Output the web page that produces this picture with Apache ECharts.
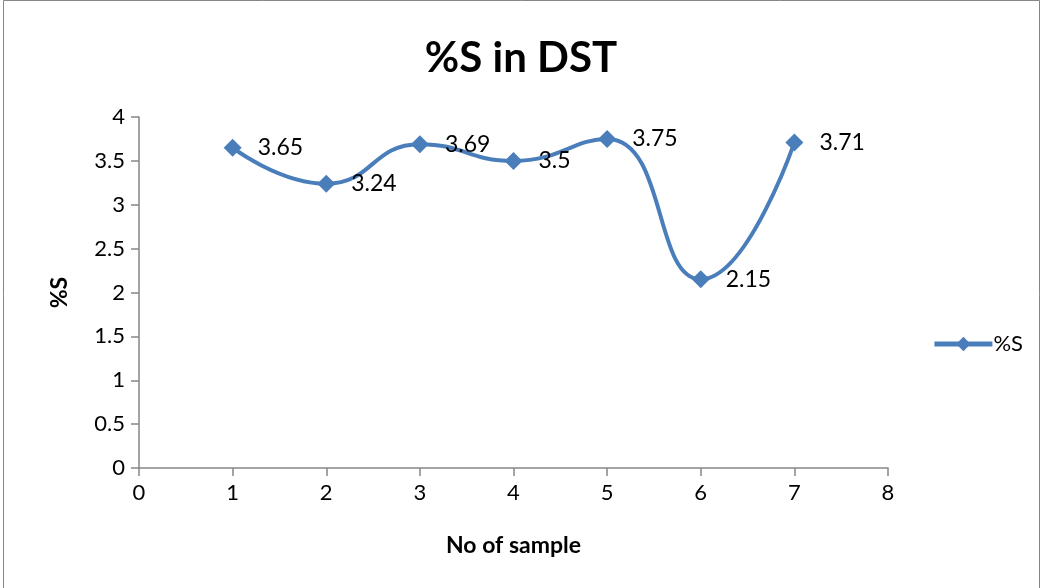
<!DOCTYPE html>
<html>
<head>
<meta charset="utf-8">
<script src="https://cdn.jsdelivr.net/npm/echarts@6/dist/echarts.min.js"></script>
<style>html,body{margin:0;padding:0;background:#fff}#c{width:1042px;height:588px}</style>
</head>
<body>
<div id="c"></div>
<script>
var samples = [1, 2, 3, 4, 5, 6, 7];
var sValues = [3.65, 3.24, 3.69, 3.5, 3.75, 2.15, 3.71];
var seriesName = '%S';
var titleText = '%S in DST';
var xName = 'No of sample';
var yName = '%S';

var font = 'Lato, "Open Sans", sans-serif';
var chart = echarts.init(document.getElementById('c'));
chart.setOption({
  backgroundColor: '#fff',
  animation: false,
  textStyle: {fontFamily: font},
  graphic: [{type: 'rect', shape: {x: 3.5, y: 0.5, width: 1036, height: 590}, style: {fill: 'none', stroke: '#868686', lineWidth: 1}}],
  title: {text: titleText, left: 'center', top: 32, textStyle: {fontFamily: font, fontSize: 42, fontWeight: 'bold', color: '#000'}},
  legend: {right: 14, top: 328, orient: 'vertical', itemWidth: 58, itemHeight: 18, itemGap: 4,
    lineStyle: {width: 5, color: '#4a7ebb'},
    textStyle: {fontFamily: font, fontSize: 22, color: '#000', padding: [0,0,0,-4]},
    data: [{name: seriesName}]},
  grid: {left: 139, right: 154, top: 117, bottom: 120, containLabel: false},
  xAxis: {type: 'value', min: 0, max: 8, interval: 1, name: xName, nameLocation: 'middle', nameGap: 66,
    nameTextStyle: {fontFamily: font, fontSize: 23, fontWeight: 'bold', color: '#000'},
    axisLine: {lineStyle: {color: '#868686', width: 1.5}},
    axisTick: {show: true, length: 8, lineStyle: {color: '#868686', width: 1.5}},
    axisLabel: {fontSize: 22, color: '#000', margin: 14, fontFamily: font},
    splitLine: {show: false}},
  yAxis: {type: 'value', min: 0, max: 4, interval: 0.5, name: yName, nameLocation: 'middle', nameGap: 68, nameRotate: 90,
    nameTextStyle: {fontFamily: font, fontSize: 23, fontWeight: 'bold', color: '#000'},
    axisLine: {show: true, lineStyle: {color: '#868686', width: 1.5}},
    axisTick: {show: true, length: 8, lineStyle: {color: '#868686', width: 1.5}},
    axisLabel: {fontSize: 22, color: '#000', margin: 14, fontFamily: font},
    splitLine: {show: false}},
  series: [{
    name: seriesName, type: 'line', smooth: 0.5,
    data: samples.map(function(s, i){ return [s, sValues[i]]; }),
    symbol: 'diamond', symbolSize: 18,
    itemStyle: {color: '#4a7ebb'},
    lineStyle: {color: '#4a7ebb', width: 4},
    label: {show: true, position: 'right', distance: 16, fontSize: 23, color: '#000', fontFamily: font,
      formatter: function(p){ return p.value[1]; }}
  }]
});
</script>
</body>
</html>
